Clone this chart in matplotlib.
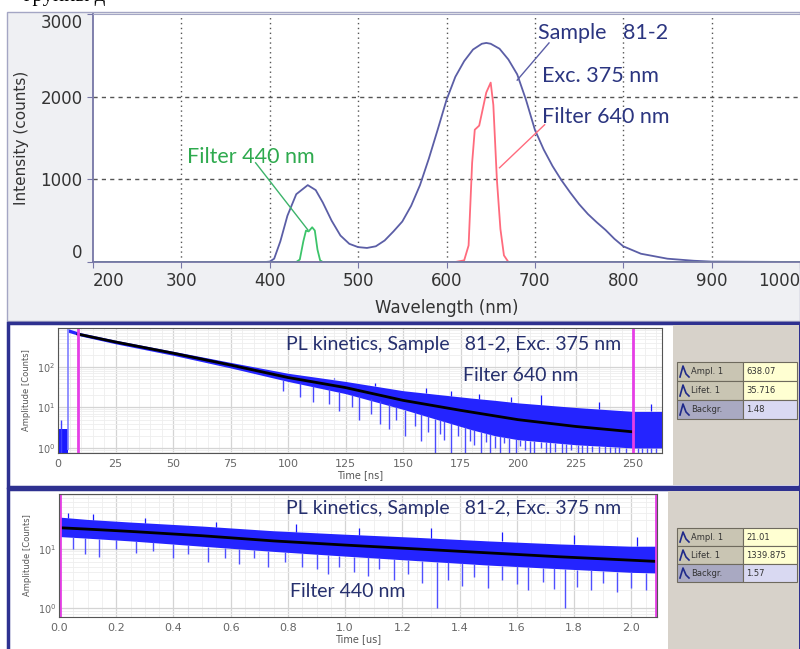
import numpy as np
import matplotlib
matplotlib.use('Agg')
import matplotlib.pyplot as plt
from matplotlib.patches import Rectangle
from matplotlib.ticker import MultipleLocator, LogLocator, NullFormatter, FormatStrFormatter

W, H = 800, 649

# spectrum (top panel)
wl_sample = [200, 395, 400, 405, 412, 420, 430, 443, 452, 460, 470, 480, 490, 500, 510, 520, 530,
             540, 550, 560, 570, 580, 590, 600, 610, 620, 630, 640, 645, 650, 660, 670, 680,
             690, 700, 710, 720, 730, 740, 750, 760, 770, 780, 790, 800, 820, 850, 880, 900, 1000]
int_sample = [0, 0, 5, 40, 250, 560, 820, 930, 870, 720, 500, 320, 220, 180, 170, 190, 260,
              370, 490, 680, 930, 1250, 1600, 1960, 2240, 2430, 2570, 2640, 2650, 2640, 2580, 2450, 2270,
              1960, 1600, 1360, 1160, 990, 840, 700, 580, 480, 387, 280, 190, 100, 40, 15, 5, 0]
wl_f440 = [200, 430, 434, 438, 441, 444, 448, 451, 454, 457, 460, 1000]
int_f440 = [0, 0, 30, 250, 380, 370, 420, 380, 150, 20, 0, 0]
wl_f640 = [200, 610, 620, 625, 629, 632, 637, 640, 645, 650, 653, 657, 661, 665, 670, 1000]
int_f640 = [0, 0, 20, 200, 1200, 1600, 1650, 1800, 2050, 2170, 1900, 1000, 400, 80, 0, 0]

# PL kinetics, filter 640 nm (time in ns)
k1_t = [4.5, 10, 25, 50, 75, 100, 125, 150, 165, 180, 190, 200, 225, 250, 262.6]
k1_up = [880, 700, 460, 245, 130, 70, 44, 26, 21, 17, 15, 13, 10, 8, 8]
k1_low = [720, 580, 375, 195, 95, 44, 22, 9, 5, 2.8, 2.0, 1.6, 1.2, 1.0, 1.0]
k1_fit_t = [8.7, 25, 50, 75, 100, 125, 150, 175, 200, 225, 250]
k1_fit = [650, 415, 220, 112, 55, 31, 15, 8.5, 5.0, 3.4, 2.5]
k1_pre_t = [0, 4.2]
k1_pre_up = [3.0, 3.0]
k1_dn_t = [98, 105, 111, 118, 122, 128, 131, 136, 140, 144, 147, 151, 155, 158, 161, 164, 166, 168, 171,
           174, 177, 179, 181, 184, 186, 188, 190, 192, 194, 196, 199, 201, 203, 205, 207, 210, 212, 214,
           216, 219, 221, 223, 226, 228, 230, 232, 235, 238, 240, 242, 244, 247, 252, 254, 256, 258, 260]
k1_dn_v = [25, 18, 14, 12, 8, 10, 5, 7, 4, 3, 5, 2, 3.5, 1.5, 2.5, 0.75, 2.2, 1.6, 0.75,
           2, 0.75, 1.5, 1.2, 0.75, 1.4, 0.75, 1.0, 0.75, 1.3, 0.75, 0.75, 1.1, 0.9, 0.75, 0.75, 1.0, 0.75, 0.75,
           0.8, 0.75, 0.75, 0.9, 0.75, 0.75, 0.75, 0.8, 0.75, 0.75, 0.75, 0.75, 0.75, 0.75, 0.75, 0.75, 0.75, 0.75, 0.75]
k1_up_t = [120, 138, 160, 171, 183, 197, 210, 235, 258]
k1_up_v = [55, 40, 30, 25, 22, 18, 20, 14, 12]
k1_cursor = [8.7, 250]

# PL kinetics, filter 440 nm (time in us)
k2_t = [0.0, 0.1, 0.25, 0.5, 0.75, 1.0, 1.25, 1.5, 1.75, 2.0, 2.09]
k2_up = [34, 31, 28, 24, 20, 17.5, 15.5, 13.5, 12, 11, 11]
k2_low = [16, 15, 13.5, 11, 9, 7.5, 6.3, 5.3, 4.6, 4.0, 3.9]
k2_fit = [22.5, 21.3, 19.5, 16.5, 13.5, 11.5, 9.9, 8.5, 7.3, 6.4, 6.1]
k2_dn_t = [0.05, 0.09, 0.14, 0.2, 0.27, 0.33, 0.4, 0.45, 0.52, 0.58, 0.63, 0.68, 0.73, 0.79, 0.85,
           0.9, 0.94, 0.98, 1.03, 1.08, 1.12, 1.17, 1.22, 1.27, 1.32, 1.36, 1.41, 1.45, 1.5, 1.55,
           1.6, 1.64, 1.69, 1.73, 1.77, 1.81, 1.86, 1.9, 1.95, 2.0, 2.05]
k2_dn_v = [10, 8, 7.2, 10, 8.5, 9, 7, 8, 6, 7, 5.5, 7, 5, 6, 5,
           4.5, 3.8, 5, 4, 3.5, 4.5, 3, 3.8, 2.6, 1.0, 3, 2.4, 3.3, 2.2, 3,
           2.5, 2, 2.8, 2.1, 1.0, 2.3, 2.0, 2.6, 1.9, 2.2, 2.0]
k2_up_t = [0.03, 0.12, 0.3, 0.55, 0.83, 1.05, 1.3, 1.55, 1.8, 2.02]
k2_up_v = [40, 38, 33, 28, 26, 22, 22, 19, 17, 16]
k2_cursor = [0.003, 2.085]

fit_rows = ['Ampl. 1', 'Lifet. 1', 'Backgr.']
fit640 = ['638.07', '35.716', '1.48']
fit440 = ['21.01', '1339.875', '1.57']

NAVY = '#2b3580'
ANN = ['Lato', 'DejaVu Sans']


def rect(l, t, r, b):
    return [l / W, 1 - b / H, (r - l) / W, (b - t) / H]


fig = plt.figure(figsize=(8, 6.49), dpi=100)
fig.patch.set_facecolor('white')

# background layer in pixel coordinates
bg = fig.add_axes([0, 0, 1, 1])
bg.set_xlim(0, W)
bg.set_ylim(H, 0)
bg.axis('off')
bg.add_patch(Rectangle((7, 12), 793, 309, facecolor='#eff0f3', edgecolor='#a4a6c4', lw=1))
bg.add_patch(Rectangle((8, 323), 792, 164, facecolor='white', edgecolor='#2e3190', lw=2.5))
bg.add_patch(Rectangle((673, 325), 126, 160, facecolor='#d7d2ca', edgecolor='none'))
bg.add_patch(Rectangle((8, 489), 792, 165, facecolor='white', edgecolor='#2e3190', lw=2.5))
bg.add_patch(Rectangle((668, 491), 131, 158, facecolor='#d7d2ca', edgecolor='none'))
# caption line of the page above, cut by the image edge
bg.text(24, -3, 'группы д', family=['Liberation Serif', 'DejaVu Serif'], fontsize=15, color='black',
        va='center')


def draw_table(top, rowh, vals):
    l, mid, r = 677, 743, 797
    for i, (name, v) in enumerate(zip(fit_rows, vals)):
        y = top + i * rowh
        lc = '#a9a9c2' if i == 2 else '#c9c5b3'
        rc = '#d9d9f2' if i == 2 else '#ffffd2'
        bg.add_patch(Rectangle((l, y), mid - l, rowh, facecolor=lc, edgecolor='#6e6a5e', lw=0.8))
        bg.add_patch(Rectangle((mid, y), r - mid, rowh, facecolor=rc, edgecolor='#6e6a5e', lw=0.8))
        bg.plot([l + 3, l + 6, l + 9, l + 12], [y + rowh - 4, y + 4, y + rowh - 7, y + rowh - 4],
                color='#1f2a8a', lw=1.2)
        bg.text(l + 14, y + rowh / 2, name, fontsize=6, color='#333333', va='center')
        bg.text(mid + 3, y + rowh / 2, v, fontsize=6, color='#333333', va='center')


draw_table(362, 19, fit640)
draw_table(528, 18, fit440)

# ---- top: spectra ----
ax = fig.add_axes(rect(93, 14, 800, 262))
ax.set_facecolor('white')
ax.plot(wl_sample, int_sample, color='#5b5ea6', lw=1.3)
ax.plot(wl_f640, int_f640, color='#ff6b7d', lw=1.3)
ax.plot(wl_f440, int_f440, color='#3cc46a', lw=1.3)
ax.set_xlim(200, 1000)
ax.set_ylim(0, 3000)
ax.set_xticks(np.arange(200, 1001, 100))
ax.set_yticks([0, 1000, 2000, 3000])
for x in range(300, 1000, 100):
    ax.axvline(x, color='#555555', lw=1, ls=(0, (1, 2.5)), zorder=0)
for y in [1000, 2000]:
    ax.axhline(y, color='#555555', lw=1, ls=(0, (3, 3)), zorder=0)
ax.spines['right'].set_visible(False)
ax.spines['left'].set_color('#7676a6')
ax.spines['bottom'].set_color('#7676a6')
ax.spines['top'].set_color('#a4a6c4')
ax.spines['left'].set_linewidth(1.3)
ax.spines['bottom'].set_linewidth(1.3)
ax.tick_params(axis='both', colors='#7676a6', labelcolor='#333333', labelsize=12, length=4)
xl = ax.get_xticklabels()
xl[0].set_ha('left')
xl[-1].set_ha('right')
yl = ax.get_yticklabels()
yl[0].set_va('bottom')
yl[-1].set_va('top')
ax.set_xlabel('Wavelength (nm)', fontsize=12, color='#333333', labelpad=6)
ax.set_ylabel('Intensity (counts)', fontsize=11, color='#333333', labelpad=8)

ax.text(704, 2770, 'Sample   81-2', family=ANN, fontsize=15.5, color=NAVY, va='center')
ax.text(708, 2250, 'Exc. 375 nm', family=ANN, fontsize=15.5, color=NAVY, va='center')
ax.text(708, 1755, 'Filter 640 nm', family=ANN, fontsize=15.5, color=NAVY, va='center')
ax.text(306, 1270, 'Filter 440 nm', family=ANN, fontsize=15.5, color='#2eaa4e', va='center')
ax.plot([716, 680], [2650, 2200], color='#5b5ea6', lw=1)
ax.plot([711, 660], [1660, 1140], color='#ff6b7d', lw=1)
ax.plot([384, 443], [1200, 390], color='#3cb36a', lw=1)


def kin_axes(r, xlim, ylim, xmajor, xminor, xlabel):
    a = fig.add_axes(rect(*r))
    a.set_yscale('log')
    a.set_xlim(*xlim)
    a.set_ylim(*ylim)
    a.xaxis.set_major_locator(MultipleLocator(xmajor))
    a.xaxis.set_minor_locator(MultipleLocator(xminor))
    a.yaxis.set_minor_locator(LogLocator(subs=np.arange(2, 10)))
    a.yaxis.set_minor_formatter(NullFormatter())
    a.grid(which='major', color='#d4d4d4', lw=0.9)
    a.grid(which='minor', color='#eeeeee', lw=0.6)
    a.set_axisbelow(True)
    for s in a.spines.values():
        s.set_color('#555555')
    a.tick_params(which='both', length=0)
    a.tick_params(axis='x', labelsize=8, labelcolor='#666666', pad=4)
    a.tick_params(axis='y', labelsize=7, labelcolor='#666666', pad=2)
    a.set_xlabel(xlabel, fontsize=7, color='#555555', labelpad=1)
    a.set_ylabel('Amplitude [Counts]', fontsize=6, color='#555555', labelpad=4)
    return a


# ---- middle: kinetics 640 nm ----
k1 = kin_axes((58, 328, 662, 453), (0, 262.6), (0.75, 920), 25, 5, 'Time [ns]')
k1.set_yticks([1, 10, 100])
k1.set_yticklabels([r'$10^0$', r'$10^1$', r'$10^2$'])
k1.fill_between(k1_pre_t, [0.75, 0.75], k1_pre_up, color='#1a1aff', lw=0)
k1.vlines([1.2], 0.75, 5, color='#4040ff', lw=1)
k1.vlines([4.3], 0.9, 880, color='#7f7fff', lw=1.2)
k1.fill_between(k1_t, k1_low, k1_up, color='#2424ff', lw=0)
k1.vlines(k1_dn_t, k1_dn_v, np.interp(k1_dn_t, k1_t, k1_low), color='#4a4aff', lw=1)
k1.vlines(k1_up_t, np.interp(k1_up_t, k1_t, k1_up), k1_up_v, color='#1a1aff', lw=0.9)
k1.plot(k1_fit_t, k1_fit, color='black', lw=2)
k1.vlines(k1_cursor, 0.75, 920, color='#e63ee6', lw=2)
k1.text(172, 350, 'PL kinetics, Sample   81-2, Exc. 375 nm', family=ANN, fontsize=14,
        color='#26306e', ha='center', va='center')
k1.text(201, 60, 'Filter 640 nm', family=ANN, fontsize=14, color='#26306e', ha='center', va='center')

# ---- bottom: kinetics 440 nm ----
k2 = kin_axes((59, 494, 657, 617), (0, 2.09), (0.71, 83), 0.2, 0.05, 'Time [us]')
k2.set_yticks([1, 10])
k2.set_yticklabels([r'$10^0$', r'$10^1$'])
k2.xaxis.set_major_formatter(FormatStrFormatter('%.1f'))
k2.fill_between(k2_t, k2_low, k2_up, color='#2424ff', lw=0)
k2.vlines(k2_dn_t, k2_dn_v, np.interp(k2_dn_t, k2_t, k2_low), color='#5050ff', lw=1)
k2.vlines(k2_up_t, np.interp(k2_up_t, k2_t, k2_up), k2_up_v, color='#1a1aff', lw=0.9)
k2.plot(k2_t, k2_fit, color='black', lw=2)
k2.vlines(k2_cursor, 0.71, 83, color='#e63ee6', lw=2)
k2.text(1.38, 48, 'PL kinetics, Sample   81-2, Exc. 375 nm', family=ANN, fontsize=14,
        color='#26306e', ha='center', va='center')
k2.text(1.01, 1.9, 'Filter 440 nm', family=ANN, fontsize=14, color='#26306e', ha='center', va='center')

fig.savefig('out.png', dpi=100, facecolor='white')
